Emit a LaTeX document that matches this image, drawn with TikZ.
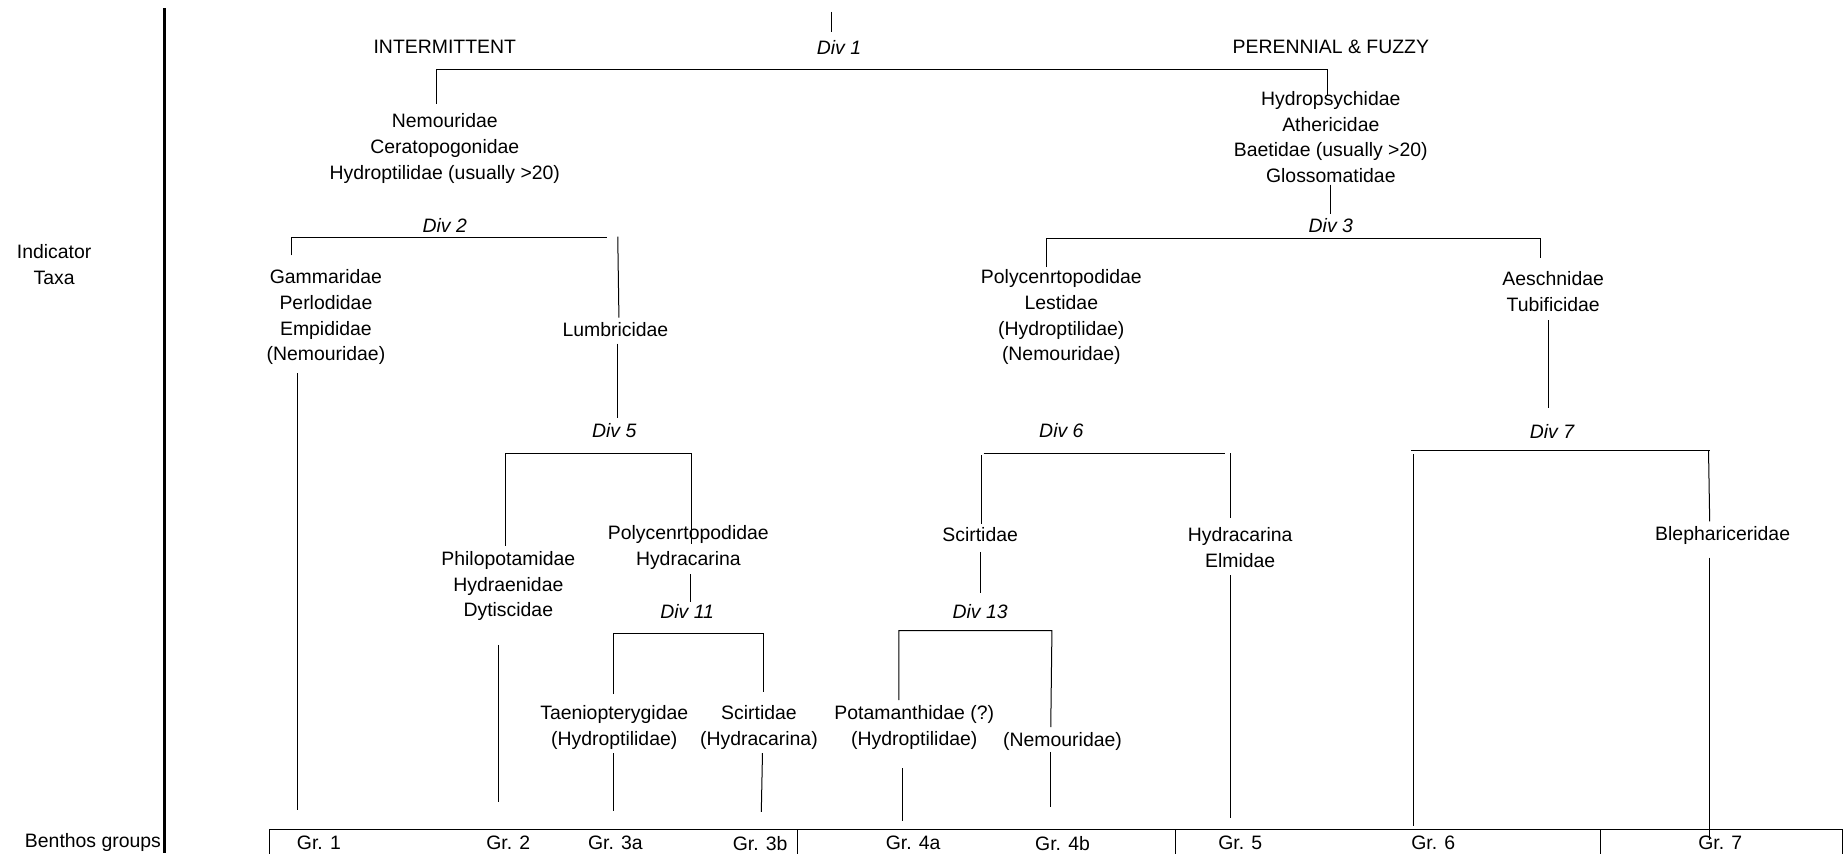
\documentclass[tikz,border=0pt]{standalone}
\usepackage{fontspec}
\setmainfont{Liberation Sans}
\begin{document}
\begin{tikzpicture}[x=1pt,y=-1pt,
  lbl/.style={font=\fontsize{16.5}{22}\selectfont, inner sep=0pt, align=center},
  div/.style={lbl, font=\fontsize{16.5}{22}\selectfont\itshape},
  br/.style={line width=0.85pt},
  axis/.style={line width=2.6pt}]
\useasboundingbox (0,0) rectangle (1568,725);
% left axis and row titles
\draw[axis] (139.5,7) -- (139.5,725);
\node[lbl] (ind) at (46,225) {Indicator\\Taxa};
\node[lbl,anchor=east] (bg) at (137,716) {Benthos groups};
% level 1
\node[lbl] (int) at (378,40) {INTERMITTENT};
\node[div] (d1) at (713,40) {Div 1};
\node[lbl] (per) at (1131,40) {PERENNIAL \& FUZZY};
\node[lbl] (n1) at (378,126.5) {Nemouridae\\Ceratopogonidae\\Hydroptilidae (usually >20)};
\node[lbl] (n2) at (1131,116.5) {Hydropsychidae\\Athericidae\\Baetidae (usually >20)\\Glossomatidae};
% level 2
\node[div] (d2) at (378,192) {Div 2};
\node[div] (d3) at (1131,192) {Div 3};
\node[lbl] (n3) at (277,269.5) {Gammaridae\\Perlodidae\\Empididae\\(Nemouridae)};
\node[lbl] (n4) at (523,280) {Lumbricidae};
\node[lbl] (n5) at (902,269.5) {Polycenrtopodidae\\Lestidae\\(Hydroptilidae)\\(Nemouridae)};
\node[lbl] (n6) at (1320,247.5) {Aeschnidae\\Tubificidae};
% level 3
\node[div] (d5) at (522,366) {Div 5};
\node[div] (d6) at (902,366) {Div 6};
\node[div] (d7) at (1319,367) {Div 7};
\node[lbl] (n7) at (432,498) {Philopotamidae\\Hydraenidae\\Dytiscidae};
\node[lbl] (n8) at (585,465) {Polycenrtopodidae\\Hydracarina};
\node[lbl] (n9) at (833,454) {Scirtidae};
\node[lbl] (n10) at (1054,465) {Hydracarina\\Elmidae};
\node[lbl] (n11) at (1464,455) {Blephariceridae};
% level 4
\node[div] (d11) at (584,520) {Div 11};
\node[div] (d13) at (833,520) {Div 13};
\node[lbl] (n12) at (522,618.5) {Taeniopterygidae\\(Hydroptilidae)};
\node[lbl] (n13) at (645,618.5) {Scirtidae\\(Hydracarina)};
\node[lbl] (n14) at (777,618.5) {Potamanthidae (?)\\(Hydroptilidae)};
\node[lbl] (n15) at (903,630) {(Nemouridae)};
% groups
\node[lbl] (g1) at (271,716.5) {Gr. 1};
\node[lbl] (g2) at (432,716.5) {Gr. 2};
\node[lbl] (g3a) at (523,716.5) {Gr. 3a};
\node[lbl] (g3b) at (646,716.5) {Gr. 3b};
\node[lbl] (g4a) at (776,716.5) {Gr. 4a};
\node[lbl] (g4b) at (903,716.5) {Gr. 4b};
\node[lbl] (g5) at (1054,716.5) {Gr. 5};
\node[lbl] (g6) at (1218,716.5) {Gr. 6};
\node[lbl] (g7) at (1462,716.5) {Gr. 7};
% group boxes
\draw[br] (229,730) |- (1566,705) -- (1566,730);
\draw[br] (678,705) -- (678,730);
\draw[br] (999,705) -- (999,730);
\draw[br] (1360,705) -- (1360,730);
% tree
\draw[br] (707,10) -- (707,27);
\draw[br] (371,88) |- (1128,59) -- (1128,82);
\draw[br] (1131,157) -- (1131,182);
\draw[br] (889,227) |- (1309,203) -- (1309,219);
\draw[br] (248,217) |- (516,202);
\draw[br] (525,201) -- (526,270);
\draw[br] (253,317) -- (253,688);
\draw[br] (525,292) -- (525,355);
\draw[br] (430,464) |- (588,385) -- (588,462);
\draw[br] (424,548) -- (424,682);
\draw[br] (587,488) -- (587,512);
\draw[br] (521,590) |- (649,538) -- (649,588);
\draw[br] (521,640) -- (521,689);
\draw[br] (648,640) -- (647,690);
\draw[br] (836,385) -- (1041,385);
\draw[br] (834,387) -- (834,445);
\draw[br] (1046,385) -- (1046,440);
\draw[br] (833,469) -- (833,504);
\draw[br] (764,595) |- (894,536) -- (893,618);
\draw[br] (767,653) -- (767,698);
\draw[br] (893,639) -- (893,686);
\draw[br] (1046,489) -- (1046,695);
\draw[br] (1316,272) -- (1316,347);
\draw[br] (1199,382.5) -- (1453,382.5);
\draw[br] (1201,386) -- (1201,702);
\draw[br] (1452,382.5) -- (1453,443);
\draw[br] (1453,474) -- (1453,714);
\end{tikzpicture}
\end{document}
